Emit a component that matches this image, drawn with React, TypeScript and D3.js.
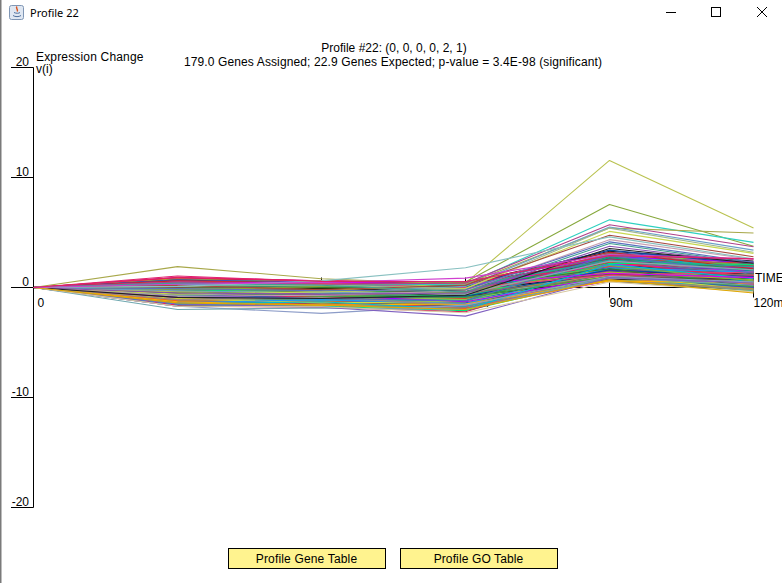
import { useMemo } from "react";
import * as d3 from "d3";

const WIDTH = 782;
const HEIGHT = 583;

const timeLabels = ["0", "15m", "30m", "60m", "90m", "120m"];
const yTicks = [20, 10, 0, -10, -20];

// lines that stand clear of the main band: t(15m), t(30m), t(60m), t(90m), t(120m)
const outlierProfiles = [
  [-0.4, -0.3, 0.4, 11.55, 5.4],
  [-0.2, 0.1, 0.5, 7.55, 3.75],
  [0.3, 0.2, 0.3, 6.15, 4.1],
  [1.9, 0.8, 0.3, 5.4, 4.95],
  [0.5, 0.3, 0.4, 5.7, 3.7],
  [-0.3, -0.5, 0.1, 5.5, 3.4],
  [0.1, 0.2, -0.1, 5.4, 3.2],
  [-0.6, -0.4, -0.1, 5.1, 3.1],
  [0.2, -0.2, 0.2, 4.75, 2.8],
  [-0.8, -0.7, -0.3, 4.35, 2.55],
  [-0.1, -0.3, -0.2, 4.15, 2.3],
  [0.4, 0.2, -0.4, 4.0, 2.2],
  [-0.5, -0.6, -0.5, 3.75, 2.2],
  [-0.9, -1.0, -0.7, 3.55, 2.2],
  [0.1, 0.6, 1.8, 4.6, 2.6],
  [-1.7, -2.35, -1.6, 1.0, 0.5],
  [-2.0, -1.85, -2.0, 0.9, 0.2],
  [-1.5, -1.8, -2.6, 0.9, 0.4],
  [-1.7, -1.75, -2.3, 0.5, -0.4],
  [-1.4, -1.6, -2.0, 0.7, -0.5],
  [0.3, 0.45, 0.85, 3.0, 2.6],
  [1.05, 0.55, 0.55, 2.9, 2.6],
];
const outlierColors = [
  "#b9c24f", "#86a83c", "#2fd0c0", "#a8a84a", "#b0408a", "#6aa0c8", "#a0b890", "#c8d850",
  "#a84a40", "#c8a0b0", "#5a70c0", "#40a090", "#8a50b0", "#222222", "#88c0c0", "#8c9cc8",
  "#70a8b0", "#8060c0", "#d8c8a0", "#e0a800", "#d040d0", "#e0206a",
];

const bandProfiles = [
  [0.2, 0.1, -0.1, 2.1, 1.2], [-0.7, -0.8, -1.0, 1.4, 0.6], [0.6, 0.4, 0.3, 2.6, 1.9], [-1.3, -1.3, -1.6, 0.9, 0.3],
  [-0.2, -0.3, -0.5, 1.8, 1.4], [0.4, 0.3, 0.1, 1.5, 0.7], [-1.0, -1.1, -1.3, 1.2, 0.1], [0.0, -0.1, -0.3, 2.4, 1.7],
  [-0.5, -0.6, -0.8, 1.1, 0.9], [0.8, 0.5, 0.4, 3.3, 2.4], [-1.5, -1.6, -1.9, 0.8, -0.2], [-0.1, -0.2, -0.4, 1.3, 1.0],
  [0.3, 0.2, 0.0, 2.9, 2.0], [-0.9, -1.0, -1.2, 1.6, 0.8], [-0.3, -0.5, -0.7, 2.2, 1.5], [0.5, 0.3, 0.2, 1.7, 1.1],
  [-1.1, -1.3, -1.5, 0.7, 0.0], [0.1, 0.0, -0.2, 1.0, 0.4], [-0.6, -0.7, -0.9, 2.7, 1.8], [-1.4, -1.3, -1.7, 1.5, 0.5],
  [0.7, 0.5, 0.4, 2.3, 1.3], [-0.4, -0.5, -0.8, 0.9, 0.2], [-0.8, -0.9, -1.0, 2.0, 1.6], [0.2, 0.0, -0.2, 3.1, 2.2],
  [-1.6, -1.6, -2.0, 1.1, 0.7], [0.0, 0.1, -0.1, 1.2, 0.3], [-0.2, -0.4, -0.6, 2.5, 2.1], [-1.2, -1.2, -1.5, 0.6, -0.3],
  [0.4, 0.4, 0.2, 1.9, 1.2], [-0.7, -0.7, -0.9, 1.0, 0.6], [0.9, 0.6, 0.5, 2.8, 1.5], [-1.0, -1.2, -1.4, 1.7, 1.3],
  [-0.3, -0.3, -0.6, 0.8, 0.1], [0.1, -0.1, -0.3, 2.2, 0.9], [-1.3, -1.4, -1.7, 1.3, 0.4], [-0.5, -0.7, -0.9, 3.0, 1.9],
  [0.6, 0.5, 0.2, 1.4, 0.8], [-0.9, -1.1, -1.3, 0.7, -0.1], [0.3, 0.1, 0.1, 2.0, 1.7], [-0.1, -0.3, -0.5, 1.6, 0.2],
  [-1.5, -1.5, -1.8, 1.9, 1.0], [-0.6, -0.5, -0.8, 1.2, 1.1], [0.5, 0.4, 0.3, 3.2, 2.3], [-1.1, -1.1, -1.4, 0.8, 0.5],
  [0.0, -0.2, -0.2, 1.5, 1.5], [-0.8, -0.8, -1.1, 2.4, 1.2], [0.2, 0.2, -0.1, 0.9, 0.0], [-1.4, -1.5, -1.8, 1.0, -0.1],
  [0.7, 0.4, 0.3, 1.8, 0.9], [-0.4, -0.6, -0.7, 2.6, 1.4], [-1.2, -1.4, -1.6, 1.4, 0.7], [0.1, 0.1, -0.3, 1.1, 0.3],
  [-0.2, -0.2, -0.4, 2.1, 2.0], [-0.7, -0.9, -1.1, 0.6, -0.2], [0.4, 0.2, 0.2, 2.7, 1.6], [-1.6, -1.7, -2.1, 0.9, 0.1],
  [-0.3, -0.4, -0.5, 1.7, 0.5], [0.8, 0.6, 0.3, 1.3, 1.0], [-1.0, -1.0, -1.2, 2.3, 1.8], [-0.5, -0.8, -1.0, 1.0, 0.4],
  [0.3, 0.3, 0.2, 3.4, 2.1], [-0.1, -0.1, -0.4, 0.7, 0.6], [-1.3, -1.2, -1.5, 1.6, 0.9], [0.6, 0.3, 0.1, 2.0, 1.3],
  [-0.9, -1.2, -1.4, 1.2, 0.2], [-0.2, -0.5, -0.5, 1.4, 1.7], [0.2, 0.3, 0.0, 0.8, -0.3], [-1.1, -1.4, -1.6, 2.2, 1.1],
  [0.5, 0.2, 0.2, 1.6, 0.5], [-0.6, -0.6, -0.7, 2.9, 1.6], [-1.4, -1.4, -1.8, 0.6, 0.0], [0.0, -0.3, -0.2, 1.9, 1.4],
  [-0.4, -0.4, -0.9, 0.9, 0.8], [0.9, 0.5, 0.4, 2.5, 1.8], [-0.8, -1.0, -1.1, 1.3, 0.3], [0.1, 0.2, -0.1, 1.1, 1.2],
  [-1.2, -1.3, -1.4, 1.8, 0.6], [-0.3, -0.2, -0.6, 2.6, 2.2], [0.4, 0.1, 0.1, 0.7, 0.2], [-1.5, -1.4, -1.9, 1.5, 1.0],
  [-0.7, -0.6, -0.8, 0.8, -0.1], [0.2, 0.1, -0.2, 2.3, 1.1], [-1.0, -1.1, -1.5, 1.1, 0.7], [0.6, 0.6, 0.3, 1.6, 1.6],
  [-0.1, -0.4, -0.6, 3.0, 1.7], [-1.3, -1.5, -1.9, 0.9, 0.4], [0.3, 0.4, 0.1, 1.2, 0.1], [-0.5, -0.4, -0.9, 2.0, 1.3],
  [-0.9, -0.9, -1.2, 0.7, 0.5], [0.7, 0.4, 0.4, 2.2, 0.8], [-1.6, -1.5, -1.9, 1.3, 0.2], [0.0, 0.0, -0.4, 1.4, 1.9],
  [-0.2, -0.6, -0.5, 0.6, -0.2], [-1.1, -1.0, -1.5, 2.5, 1.4], [0.5, 0.3, 0.0, 1.0, 0.6], [-0.6, -0.8, -1.1, 1.8, 0.9],
  [0.1, -0.2, -0.1, 2.8, 2.3], [-1.4, -1.2, -1.8, 1.2, 0.3], [-0.4, -0.5, -0.6, 0.8, 1.1], [0.8, 0.4, 0.2, 1.7, 1.0],
  [-0.8, -1.1, -1.3, 1.5, 0.0], [-0.3, -0.4, -0.7, 2.4, 1.5], [0.2, 0.4, 0.1, 1.1, 0.4], [-1.2, -1.1, -1.3, 0.6, 0.6],
  [-0.5, -0.5, -0.7, 2.1, 1.8], [0.4, 0.3, -0.1, 0.9, -0.1], [-1.0, -1.3, -1.6, 1.9, 1.2], [0.0, 0.1, 0.0, 1.3, 0.7],
  [-0.7, -0.5, -0.8, 3.1, 2.0], [-1.5, -1.7, -1.7, 0.7, 0.1], [0.6, 0.2, 0.2, 2.1, 1.5], [-0.1, -0.5, -0.7, 1.0, 0.3],
  [-0.9, -0.8, -1.0, 1.7, 1.3], [0.3, 0.2, 0.3, 2.6, 1.0], [-1.3, -1.4, -1.6, 1.4, 0.8], [-0.2, -0.1, -0.3, 0.8, 0.2],
  [0.5, 0.5, 0.1, 1.8, 1.7], [-0.6, -0.9, -1.0, 2.3, 0.9], [-1.1, -1.2, -1.2, 0.9, -0.3], [0.2, -0.1, -0.3, 1.2, 1.3],
  [-0.4, -0.2, -0.6, 2.8, 1.6], [-1.7, -1.8, -2.2, 1.6, 0.6], [0.7, 0.5, 0.2, 1.0, 0.0], [-0.8, -0.7, -1.1, 1.3, 1.1],
  [0.1, 0.2, -0.2, 2.0, 0.5], [-1.2, -1.3, -1.9, 0.8, 0.3], [-0.3, -0.6, -0.4, 1.5, 1.9], [0.4, 0.0, 0.2, 2.4, 1.2],
  [-1.0, -1.4, -1.3, 1.1, -0.2], [-0.5, -0.3, -0.8, 0.7, 0.8], [0.9, 0.6, 0.5, 1.9, 1.1], [-0.7, -1.0, -1.2, 2.7, 1.5],
  [0.0, -0.2, 0.0, 1.2, 0.4], [-1.4, -1.1, -1.5, 1.8, 1.4], [0.3, 0.3, -0.2, 0.6, -0.1], [-0.2, -0.5, -0.8, 2.2, 2.1],
  [-0.9, -0.7, -1.3, 1.0, 0.2], [0.6, 0.4, 0.4, 3.2, 1.7], [-1.7, -1.6, -1.8, 0.9, 0.5], [-0.1, 0.0, -0.2, 1.4, 0.7],
  [-0.6, -1.0, -0.8, 1.6, 1.0], [0.2, 0.1, 0.1, 2.5, 1.9], [-1.1, -0.9, -1.6, 0.7, -0.2], [-0.4, -0.7, -0.4, 2.0, 0.6],
  [0.5, 0.4, 0.0, 1.1, 1.4], [-0.8, -1.0, -1.2, 2.9, 1.3], [-1.3, -1.6, -1.5, 0.6, 0.4], [0.1, 0.0, 0.1, 1.7, 0.1],
  [-0.3, -0.7, -0.5, 0.9, 1.2], [-1.5, -1.3, -2.0, 2.1, 0.8], [0.4, 0.5, 0.3, 1.3, 0.9], [-0.7, -0.4, -0.6, 2.4, 1.6],
  [-0.2, -0.8, -0.9, 1.0, 0.1],
];
const bandColors = [
  "#1f9e4d", "#d81b60", "#3f51b5", "#8bc34a", "#00acc1", "#ff5722", "#9c27b0", "#607d8b",
  "#cddc39", "#212121", "#e91e63", "#009688", "#795548", "#2196f3", "#b0a040", "#00e676",
  "#aa00ff", "#c62828", "#78909c", "#afb42b", "#0d47a1", "#26a69a", "#a1887f", "#7cb342",
  "#ec407a", "#5c6bc0", "#ffb300", "#2e7d32", "#8d6e63", "#00bcd4", "#d500f9", "#90a4ae",
  "#43a047", "#ad1457", "#546e7a", "#9e9d24", "#1565c0", "#e53935", "#4db6ac", "#000000",
];

const buttonLabels = ["Profile Gene Table", "Profile GO Table"];
const buttonSpacing = [0.17, 0.12];

const FONT = "'Liberation Sans', Arial, sans-serif";

const App = () => {
  const xScale = useMemo(
    () => d3.scalePoint<number>().domain(timeLabels.map((_, i) => i)).range([33.5, 753.5]),
    []
  );
  const yScale = useMemo(() => d3.scaleLinear().domain([-20, 20]).range([507.5, 67.5]), []);
  const lineGen = d3
    .line<number>()
    .x((_, i) => xScale(i) as number)
    .y((d) => yScale(d));

  const zeroY = yScale(0);
  const axisX = xScale(0) as number;

  const lines = [
    ...bandProfiles.map((p, i) => ({ values: p, color: bandColors[i % bandColors.length] })),
    ...outlierProfiles.map((p, i) => ({ values: p, color: outlierColors[i] })),
  ];

  const buttonScale = d3.scalePoint().domain(buttonLabels).range([228, 400]);

  return (
    <svg
      width={WIDTH}
      height={HEIGHT}
      style={{ position: "absolute", left: 0, top: 0, background: "#fff" }}
      fontFamily={FONT}
      fontSize={12}
    >
      {/* window chrome */}
      <rect x={0} y={0} width={1.5} height={HEIGHT} fill="#7a7a7a" />
      <g>
        <rect x={9.5} y={5.5} width={14} height={14} rx={2} fill="#dfe7f2" stroke="#7f96b5" />
        <path d="M13 15.5c2 1.5 6 1.5 8 0M14 12.5c2 1 5 1 6 0" fill="none" stroke="#4f6f9c" />
        <path d="M17 6.5c-2 2 2 3 0 5" fill="none" stroke="#d9541e" strokeWidth={1.4} />
      </g>
      <text x={30} y={17} fontFamily="'Noto Sans', sans-serif" fontSize={11}>
        Profile 22
      </text>
      <path d="M666 12.5h10" stroke="#000" />
      <rect x={711.5} y={7.5} width={9} height={9} fill="none" stroke="#000" />
      <path d="M757 7l10 10M767 7l-10 10" stroke="#000" fill="none" />

      {/* titles */}
      <text x={394} y={52} textAnchor="middle">
        Profile #22: (0, 0, 0, 0, 2, 1)
      </text>
      <text x={393} y={66} textAnchor="middle" letterSpacing={0.12}>
        179.0 Genes Assigned; 22.9 Genes Expected; p-value = 3.4E-98 (significant)
      </text>
      <text x={36} y={61} letterSpacing={0.17}>
        Expression Change
      </text>
      <text x={36} y={73}>
        v(i)
      </text>

      {/* y axis */}
      <line x1={axisX} x2={axisX} y1={yScale(20)} y2={yScale(-20)} stroke="#000" />
      {yTicks.map((t) => (
        <g key={t}>
          <line x1={11} x2={axisX} y1={yScale(t)} y2={yScale(t)} stroke="#000" />
          <text x={29} y={yScale(t) - 2} textAnchor="end">
            {t}
          </text>
        </g>
      ))}

      {/* x axis */}
      <line x1={axisX} x2={xScale(5)} y1={zeroY} y2={zeroY} stroke="#000" />
      {timeLabels.map((label, i) => (
        <g key={label}>
          {i > 0 && (
            <line
              x1={xScale(i)}
              x2={xScale(i)}
              y1={zeroY - 10}
              y2={zeroY + 10}
              stroke="#000"
            />
          )}
          <text x={(xScale(i) as number) + (i === 0 ? 4 : 0)} y={307}>
            {label}
          </text>
        </g>
      ))}
      <text x={755} y={282}>
        TIME
      </text>

      {/* one line per gene */}
      <g fill="none" strokeWidth={1.1} strokeLinejoin="round">
        {lines.map((l, i) => (
          <path key={i} d={lineGen([0, ...l.values]) as string} stroke={l.color} />
        ))}
      </g>

      {/* buttons */}
      {buttonLabels.map((label, i) => {
        const x = buttonScale(label) as number;
        return (
          <g key={label}>
            <rect
              x={x + 0.5}
              y={548.5}
              width={157}
              height={20}
              fill="#fff38f"
              stroke="#000"
            />
            <text x={x + 78.5} y={563} textAnchor="middle" letterSpacing={buttonSpacing[i]}>
              {label}
            </text>
          </g>
        );
      })}
    </svg>
  );
};

export default App;
